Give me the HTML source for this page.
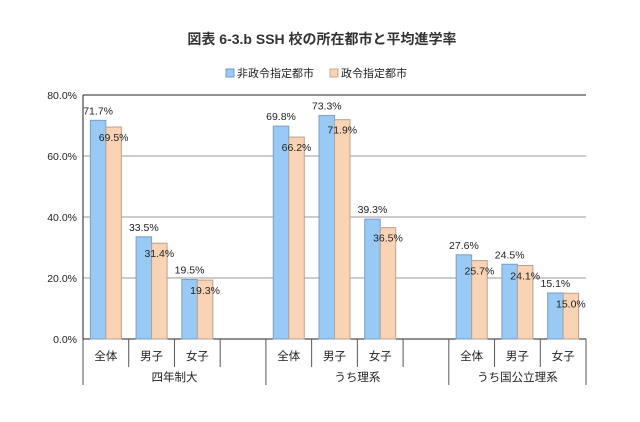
<!DOCTYPE html>
<html><head><meta charset="utf-8"><style>
body{margin:0;background:#fff;}
svg text{font-family:"Liberation Sans","Noto Sans CJK JP",sans-serif;}
</style></head><body>
<svg width="640" height="417" viewBox="0 0 640 417" id="chart">
<text x="322" y="44" text-anchor="middle" font-size="14" font-weight="bold" fill="#333">図表 6-3.b SSH 校の所在都市と平均進学率</text>
<g>
<rect x="226" y="69" width="8" height="8" fill="#99c9f5" stroke="#6a9ccc"/>
<text x="237" y="77" font-size="11" fill="#222">非政令指定都市</text>
<rect x="330" y="69" width="8" height="8" fill="#f9d4b4" stroke="#c9a88c"/>
<text x="341" y="77" font-size="11" fill="#222">政令指定都市</text>
</g>
<g id="plot"></g>
</svg>
<script>
const categories=["全体","男子","女子","","全体","男子","女子","","全体","男子","女子"];
const groups=["四年制大","うち理系","うち国公立理系"];
const nonDesignated=[71.7,33.5,19.5,null,69.8,73.3,39.3,null,27.6,24.5,15.1];
const designated=[69.5,31.4,19.3,null,66.2,71.9,36.5,null,25.7,24.1,15.0];
const yTicks=[0,20,40,60,80];
const X0=83,X1=586,Y0=339,Y1=95,YMAX=80;
const slotW=(X1-X0)/categories.length;
const y=v=>Y0-(v/YMAX)*(Y0-Y1);
const xs=i=>X0+i*slotW;
const ns="http://www.w3.org/2000/svg";
const g=document.getElementById('plot');
function mk(t,a,txt){const e=document.createElementNS(ns,t);for(const k in a)e.setAttribute(k,a[k]);if(txt!=null)e.textContent=txt;g.appendChild(e);return e;}
yTicks.forEach(v=>{
  const l=mk('line',{x1:X0,x2:X1,y1:y(v),y2:y(v),stroke:v==0||v==80?'#222':'#999','stroke-width':1});
  
  
  const t=mk('text',{x:X0-6,y:y(v)+4,'text-anchor':'end','font-size':'10.5',fill:'#222'},v.toFixed(1)+'%');
  
  
});
const ax=mk('line',{x1:X0,x2:X0,y1:Y1,y2:Y0,stroke:'#222'});


const bw=15.5;
categories.forEach((c,i)=>{
  const cx=xs(i)+slotW/2;
  if(nonDesignated[i]!=null){
    const b=mk('rect',{x:cx-bw,y:y(nonDesignated[i]),width:bw,height:Y0-y(nonDesignated[i]),fill:'#99c9f5',stroke:'#7a9fc4','stroke-width':1});
    
    
    const p=mk('rect',{x:cx,y:y(designated[i]),width:bw,height:Y0-y(designated[i]),fill:'#f9d4b4',stroke:'#b9a090','stroke-width':1});
    
    
    const t1=mk('text',{x:cx-bw/2,y:y(nonDesignated[i])-6,'text-anchor':'middle','font-size':'10.5',fill:'#222'},nonDesignated[i].toFixed(1)+'%');
    
    
    const t2=mk('text',{x:cx+bw/2,y:y(designated[i])+14,'text-anchor':'middle','font-size':'10.5',fill:'#222'},designated[i].toFixed(1)+'%');
    
    
  }
  const ct=mk('text',{x:cx,y:360,'text-anchor':'middle','font-size':'11.5',fill:'#222'},c);
  
  
  const tk=mk('line',{x1:xs(i),x2:xs(i),y1:Y0,y2:(i%4==0)?385:367,stroke:'#555'});
  
  
});
const end=mk('line',{x1:X1,x2:X1,y1:Y0,y2:385,stroke:'#555'});


groups.forEach((gname,j)=>{
  const start=j*4, span=(j<2)?4:3;
  const cx=xs(start)+span*slotW/2;
  const t=mk('text',{x:cx,y:381,'text-anchor':'middle','font-size':'11.5',fill:'#222'},gname);
  
  
});
</script>
</body></html>
